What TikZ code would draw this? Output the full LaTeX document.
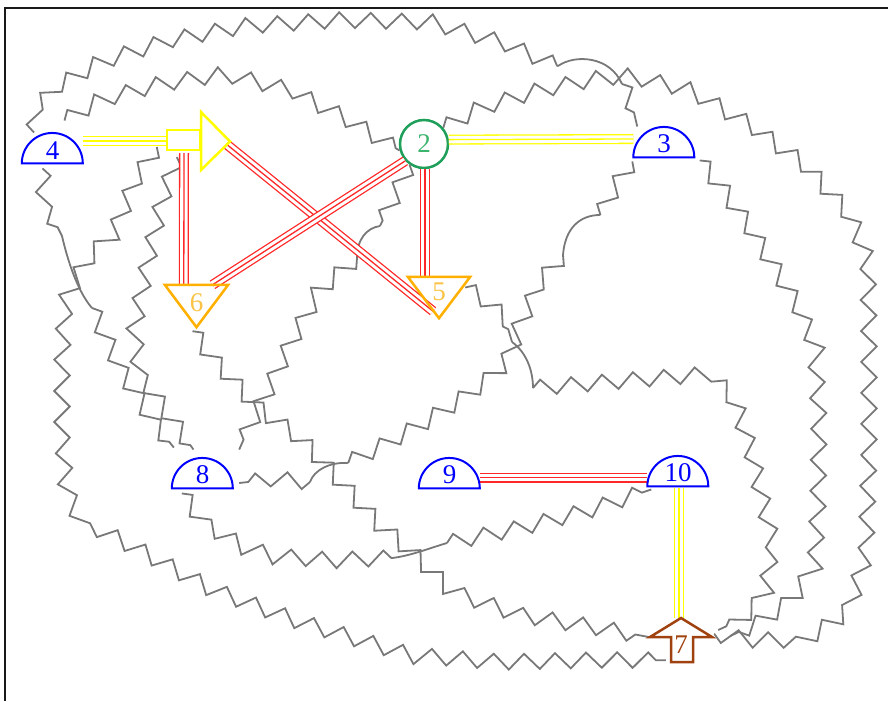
\documentclass[tikz,border=0pt]{standalone}
\usepackage{fontspec}
\setmainfont{Liberation Serif}
\usetikzlibrary{decorations.pathmorphing,calc}
\definecolor{zgray}{RGB}{120,120,120}
\definecolor{nblue}{RGB}{0,0,255}
\definecolor{ngreen}{RGB}{30,160,90}
\definecolor{ngreentext}{RGB}{60,180,110}
\definecolor{norange}{RGB}{255,176,0}
\definecolor{norangetext}{RGB}{250,195,70}
\definecolor{nbrown}{RGB}{160,66,16}
\definecolor{lred}{RGB}{255,40,40}
\definecolor{lyellow}{RGB}{255,255,0}
\begin{document}
\begin{tikzpicture}[x=1pt,y=-1pt,
  zz/.style={draw=zgray, line width=1.8pt, decorate,
    decoration={zigzag, segment length=31pt, amplitude=7.75pt}},
  hop/.style={draw=zgray, line width=1.8pt},
  triple/.style={draw=#1, line width=10pt,
    postaction={draw=white, line width=7.4pt},
    postaction={draw=#1, line width=1.3pt}},
  lbl/.style={inner sep=0pt, font=\fontsize{27}{27}\selectfont},
  semi/.style={lbl, minimum width=61pt, minimum height=30.5pt, text=nblue, text height=22pt},
  tri/.style={lbl, minimum width=63pt, minimum height=42pt, text=norangetext},
  semiline/.style={draw=nblue, line width=2pt},
  triline/.style={draw=norange, line width=2.5pt},
]
\useasboundingbox (0,0) rectangle (888,701);
% frame
\draw[line width=2.5pt, black!90] (5,701) -- (5,8) -- (888,8);

% nodes (boxes carrying the labels; outlines drawn below)
\node[semi] (n4) at (52.5,148) {4};
\node[lbl, minimum width=64pt, minimum height=58pt] (nA) at (198,141) {};
\node[lbl, circle, draw=ngreen, line width=2.5pt, minimum size=48pt, text=ngreentext] (n2) at (424,144) {2};
\node[semi] (n3) at (664,142) {3};
\node[tri, text depth=6pt] (n6) at (196.5,306) {6};
\node[tri, text depth=11pt, minimum width=62pt, minimum height=41pt] (n5) at (439,297.5) {5};
\node[semi] (n8) at (202.5,473) {8};
\node[semi] (n9) at (449.5,473) {9};
\node[semi] (n10) at (678,471) {10};
\node[lbl, minimum width=62pt, minimum height=44pt, text=nbrown, text height=26pt] (n7) at (681,640) {7};

% crossing hops
\coordinate (jA1) at (558,66);   \coordinate (jA2) at (622,84);
\coordinate (jC1) at (62,236);   \coordinate (jC2) at (92,308);
\coordinate (jG1) at (380,226);  \coordinate (jG2) at (357,258);
\coordinate (jH1) at (600,215);  \coordinate (jH2) at (563,255);
\coordinate (jH3) at (347,463);  \coordinate (jH4) at (310,482);
\coordinate (jL1) at (512,342);  \coordinate (jL2) at (533,388);
\coordinate (jJ1) at (392,558);  \coordinate (jJ2) at (447,543);

% 4 -- 3 over the top
\draw[zz] (n4.140) -- (35,110) -- (55,88) -- (100,62) -- (170,40) -- (245,26) -- (340,20) -- (430,22) -- (500,42) -- (jA1);
\draw[hop] (jA1) .. controls (575,54) and (610,56) .. (jA2);
\draw[zz] (jA2) -- (632,104) -- (n3.150);

% 4 -- 2
\draw[zz] ($(n4.north)+(12,-12)$) -- (100,100) -- (160,84) -- (225,74) -- (290,90) -- (345,118) -- (n2.195);

% 4 -- 8
\draw[zz] ($(n4.south)+(-10,5)$) -- (44,200) -- (jC1);
\draw[hop] (jC1) .. controls (68,262) and (78,292) .. (jC2);
\draw[zz] (jC2) -- (122,372) -- (152,420) -- ($(n8.north west)+(2,-10)$);

% arrow -- 7 round the left and bottom
\draw[zz] ($(nA.west)+(-9,6)$) -- (135,180) -- (115,230) -- (85,262) -- (65,300) -- (62,360) -- (62,430) -- (66,490) -- (80,520) -- (130,545) -- (213,590) -- (300,622) -- (410,655) -- (500,662) -- (600,660) -- ($(n7.south west)+(16,-2)$);

% arrow -- 8
\draw[zz] ($(nA.south west)+(11,-13)$) -- (162,200) -- (148,260) -- (134,330) -- (140,375) -- (165,410) -- ($(n8.north)+(-9,-8)$);

% 2 -- 7 round the right
\draw[zz] (n2.40) -- (480,108) -- (540,90) -- (600,78) -- (630,76) -- (690,90) -- (750,125) -- (805,165) -- (850,215) -- (868,260) -- (869,350) -- (869,450) -- (866,555) -- (848,612) -- (805,640) -- (750,640) -- ($(n7.east)+(2,-6)$);

% 3 -- 7
\draw[zz] ($(n3.south east)+(5,3)$) -- (722,188) -- (748,225) -- (773,265) -- (797,305) -- (815,345) -- (819,420) -- (818,500) -- (815,565) -- (792,600) -- (760,622) -- ($(n7.east)+(18,-4)$);

% 2 -- 8
\draw[zz] (n2.235) -- (395,195) -- (jG1);
\draw[hop] (jG1) .. controls (366,228) and (357,240) .. (jG2);
\draw[zz] (jG2) -- (320,290) -- (292,340) -- (268,390) -- (250,425) -- ($(n8.north east)+(6,-8)$);

% 3 -- 8
\draw[zz] ($(n3.south west)+(-1,4)$) -- (616,185) -- (jH1);
\draw[hop] (jH1) .. controls (580,215) and (565,228) .. (jH2);
\draw[zz] (jH2) -- (540,282) -- (522,320) -- (511,350) -- (498,372) -- (460,400) -- (420,425) -- (380,447) -- (jH3);
\draw[hop] (jH3) .. controls (330,462) and (314,470) .. (jH4);
\draw[zz] (jH4) -- (275,479) -- ($(n8.east)+(6,10)$);

% 5 -- 7
\draw[zz] ($(n5.east)+(-5,-10)$) -- (485,300) -- (505,318) -- (jL1);
\draw[hop] (jL1) .. controls (526,352) and (533,370) .. (jL2);
\draw[zz] (jL2) -- (620,381) -- (710,374) -- (735,400) -- (752,455) -- (772,540) -- (766,595) -- (740,620) -- ($(n7.east)+(6,-10)$);

% 6 -- 7
\draw[zz] ($(n6.south)+(-4,4)$) -- (214,360) -- (258,408) -- (300,438) -- (330,470) -- (375,520) -- (420,560) -- (452,592) -- (520,615) -- (600,628) -- ($(n7.west)+(-1,-3)$);

% 8 -- 10
\draw[zz] ($(n8.south west)+(10,5)$) -- (205,524) -- (240,545) -- (272,556) -- (330,560) -- (jJ1);
\draw[hop] (jJ1) .. controls (410,556) and (430,548) .. (jJ2);
\draw[zz] (jJ2) -- (520,528) -- (590,510) -- ($(n10.south west)+(4,3)$);

% triple links
\draw[triple=lyellow] ($(n4.east)+(0,-7)$) -- (nA.west);
\draw[triple=lyellow] (n2.10) -- ($(n3.west)+(0,-3)$);
\draw[triple=lyellow] ($(n10.south)+(1,2)$) -- ($(n7.north)+(-2,0)$);
\draw[triple=lred] ($(nA.south)+(-14,-17)$) -- ($(n6.north west)+(19,0)$);
\draw[triple=lred] ($(nA.east)+(-4,3)$) -- ($(n5.south)+(-6,-7)$);
\draw[triple=lred] (n2.222) -- ($(n6.north)+(16,0)$);
\draw[triple=lred] ($(n2.south)+(1,0)$) -- ($(n5.north)+(-14,0)$);
\draw[triple=lred] ($(n9.east)+(0,4.5)$) -- ($(n10.west)+(0,6.5)$);

% outlines
\foreach \n in {n4,n3,n8,n9,n10}
  \draw[semiline] (\n.south west) arc[start angle=180, end angle=0, radius=30.5pt] -- cycle;
\draw[triline] (n6.north west) -- (n6.north east) -- (n6.south) -- cycle;
\draw[triline] (n5.north west) -- (n5.north east) -- (n5.south) -- cycle;
\begin{scope}[shift={(nA.center)}]
  \draw[draw=lyellow, line width=2.5pt, line join=miter] (3,-29) -- (32,0.5) -- (3,29) -- cycle;
  \draw[draw=lyellow, line width=2.5pt, fill=white] (-31,-11) rectangle (2,9);
\end{scope}
\begin{scope}[shift={(n7.center)}]
  \draw[draw=nbrown, line width=2.5pt, line join=miter]
    (0,-22) -- (31,-3) -- (12,-3) -- (12,22) -- (-10,22) -- (-10,-3) -- (-31,-3) -- cycle;
\end{scope}
\end{tikzpicture}
\end{document}
